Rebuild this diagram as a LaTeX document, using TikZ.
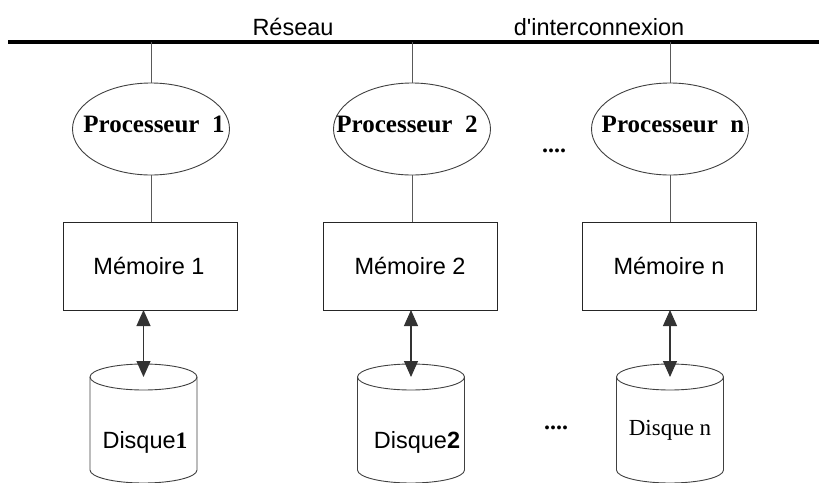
\documentclass[tikz,border=0pt]{standalone}
\usepackage{fontspec}
\setmainfont{Liberation Serif}
\setsansfont{Liberation Sans}
\usetikzlibrary{arrows.meta,shapes.geometric}
\begin{document}
\begin{tikzpicture}[x=1pt,y=-1pt,
  lbl/.style={font=\sffamily\fontsize{23.5}{28}\selectfont, inner sep=0pt, anchor=base},
  proclbl/.style={font=\rmfamily\bfseries\fontsize{25}{30}\selectfont, inner sep=0pt, anchor=base},
  dots/.style={font=\rmfamily\bfseries\fontsize{24}{28}\selectfont, inner sep=0pt},
  cpu/.style={ellipse, draw=black!75, line width=0.9pt, minimum width=157pt, minimum height=92pt, inner sep=0pt, outer sep=0pt},
  mem/.style={rectangle, draw=black!85, line width=1pt, minimum width=174pt, minimum height=88pt, outer sep=0pt},
  diskline/.style={draw=black!75, line width=0.9pt},
  wire/.style={draw=black!65, line width=0.8pt},
  link/.style={draw=black!80, line width=1.1pt, {Triangle[length=16pt,width=14pt]}-{Triangle[length=16pt,width=14pt]}},
]
\useasboundingbox (0,0) rectangle (819,482);
\clip (0,0) rectangle (819,482);

% interconnection bus
\coordinate (busL) at (8,42);
\coordinate (busR) at (819,42);
\draw[line width=3.5pt] (busL) -- (busR);
\node[lbl] (net1) at (293,35) {Réseau};
\node[lbl] (net2) at (599,35) {d\textquotesingle interconnexion};

% processors
\node[cpu] (p1) at (151,129) {};
\node[cpu] (p2) at (412,129) {};
\node[cpu] (pn) at (670,129) {};
\node[proclbl] (p1t) at (154,132) {Processeur~~1};
\node[proclbl] (p2t) at (407,132) {Processeur~~2};
\node[proclbl] (pnt) at (673,132) {Processeur~~n};
\node[dots] (g1) at (554,151) {....};

% memories
\node[mem] (m1) at (150,266) {};
\node[mem] (m2) at (410,266) {};
\node[mem] (mn) at (669.5,266) {};
\node[lbl] (m1t) at (149,274) {Mémoire 1};
\node[lbl] (m2t) at (410,274) {Mémoire 2};
\node[lbl] (mnt) at (669,274) {Mémoire n};

% bus and processor links
\foreach \p/\m in {p1/m1,p2/m2,pn/mn}{
  \draw[wire] (\p.north |- busL) -- (\p.north);
  \draw[wire] (\p.south) -- (\p.south |- \m.north);
}

% disks (top centre of each drum)
\coordinate (d1) at (143.5,377);
\coordinate (d2) at (411,377);
\coordinate (dn) at (670,377);
\foreach \d in {d1,d2,dn}{
  \draw[diskline] (\d) ellipse[x radius=53.5, y radius=13];
  \draw[diskline] ([xshift=-53.5pt]\d) -- ++(0,93)
     arc[start angle=180, end angle=0, x radius=53.5, y radius=13]
     -- ([xshift=53.5pt]\d);
}
\node[lbl] (d1t) at (145,448) {Disque{\rmfamily\bfseries 1}};
\node[lbl] (d2t) at (417,448) {Disque{\bfseries 2}};
\node[lbl, font=\rmfamily\fontsize{23}{28}\selectfont] (dnt) at (670,435) {Disque n};
\node[dots] (g2) at (556,428) {....};

% memory <-> disk links
\draw[link] (m1.south -| d1) -- (d1);
\draw[link] (m2.south -| d2) -- (d2);
\draw[link] (mn.south -| dn) -- (dn);
\end{tikzpicture}
\end{document}
